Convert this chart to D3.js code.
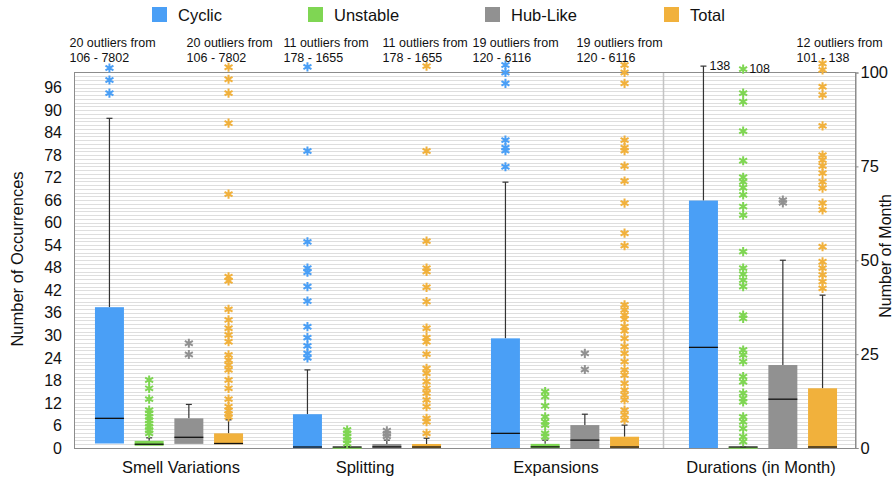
<!DOCTYPE html>
<html><head><meta charset="utf-8">
<script src="https://cdn.jsdelivr.net/npm/d3@7"></script>
<style>body{margin:0;background:#fff}svg{display:block;font-family:"Liberation Sans",Arial,Helvetica,sans-serif}</style>
</head><body><svg id="c" width="895" height="481"></svg>
<script>
// ---------- data ----------
const categories = ["Smell Variations", "Splitting", "Expansions", "Durations (in Month)"];
const seriesNames = ["Cyclic", "Unstable", "Hub-Like", "Total"];
const leftTicks = [0, 6, 12, 18, 24, 30, 36, 42, 48, 54, 60, 66, 72, 78, 84, 90, 96];
const rightTicks = [0, 25, 50, 75, 100];

const cyclicLo  = [1.2, 0, 0, 0];
const cyclicQ1  = [1.2, 0, 0, 0];
const cyclicMed = [7.9, 0, 3.9, 26.8];
const cyclicQ3  = [37.5, 9.0, 29.2, 65.9];
const cyclicHi  = [87.8, 20.8, 70.8, 101.7];
const cyclicOut = [
  [94.5, 98, 101.2],
  [101.5, 79.1, 54.9, 47.9, 46.8, 43, 39.1, 32.3, 29.4, 27.2, 25.2, 24],
  [102, 100, 97.1, 82, 80, 79.2, 74.9],
  []
];

const unstableLo  = [0.6, 0, 0, 0];
const unstableQ1  = [0.6, 0, 0, 0];
const unstableMed = [1.0, 0, 0.3, 0];
const unstableQ3  = [1.9, 0.2, 1.1, 0.2];
const unstableHi  = [2.7, 0.3, 2.1, 0.2];
const unstableOut = [
  [18.1, 15.9, 13, 10.1, 9.2, 8.3, 7.4, 6.5, 5.6, 4.8, 3.9],
  [4.8, 3.9, 3, 2.1, 1.2],
  [15, 13.7, 11.2, 8.3, 7, 6.1, 3.9, 3],
  [100.9, 94.5, 92.2, 84.4, 76.5, 72.1, 70.9, 69.3, 67.4, 64.3, 62, 52.3, 47.9, 46.3, 44.7, 43,
   35.4, 34.5, 26.1, 24.8, 23, 19, 17.6, 14.6, 13.2, 12.3, 8.3, 7, 5.2, 3, 1.7]
];

const hubLo  = [1.1, 0, 0, 0];
const hubQ1  = [1.1, 0, 0, 0];
const hubMed = [2.85, 0.3, 2.1, 13];
const hubQ3  = [7.9, 1.07, 6.1, 22.1];
const hubHi  = [11.6, 2.1, 9, 50];
const hubOut = [
  [27.9, 24.9],
  [4.6, 3.8, 3.1],
  [25.2, 20.9],
  [66, 65.3]
];

const totalLo  = [1, 0, 0, 0];
const totalQ1  = [1, 0, 0, 0];
const totalMed = [1.2, 0, 0, 0];
const totalQ3  = [3.9, 1.07, 3, 15.9];
const totalHi  = [7.5, 2.6, 6.1, 40.7];
const totalOut = [
  [101.4, 98.2, 94.5, 86.5, 67.6, 45.6, 44.5, 36.9, 34.1, 31.9, 30.1, 28.3, 24.8, 23.4, 22.1, 20.8,
   18.1, 15.9, 13, 11, 10, 9, 8.3],
  [101.7, 79.1, 55.1, 47.9, 47, 42.8, 39, 31.9, 29.4, 28.3, 25, 21.2, 19.9, 17.7, 15.9, 14.6,
   12.8, 11, 7.9, 7, 3.9],
  [102, 100, 97.1, 82, 80, 79.2, 75.1, 71.1, 65.2, 57.2, 53.9, 38.1, 36.8, 35.4, 34.3, 32.3, 31.2,
   29.2, 27, 25.2, 23, 20.8, 19.4, 17.2, 15.4, 14.1, 12.8, 10.1, 8.8, 7.5],
  [102.4, 100.7, 96.2, 94, 85.8, 78, 76.7, 75.1, 73.2, 70.9, 69.2, 65.2, 63.4, 53.6, 49.6, 47.9,
   46.1, 44.3, 42.5]
];

// outlier notes: category index, series index, two text lines
const noteCat    = [0, 0, 1, 1, 2, 2, 3];
const noteSeries = [0, 3, 0, 3, 0, 3, 3];
const noteLine1  = ["20 outliers from", "20 outliers from", "11 outliers from", "11 outliers from",
                    "19 outliers from", "19 outliers from", "12 outliers from"];
const noteLine2  = ["106 - 7802", "106 - 7802", "178 - 1655", "178 - 1655",
                    "120 - 6116", "120 - 6116", "101 - 138"];
const maxLabelCat = [3, 3];
const maxLabelSeries = [0, 1];
const maxLabelValue = [101.7, 100.9];
const maxLabelText = ["138", "108"];

// ---------- layout ----------
const colors = ["#4a9ff6", "#7fd653", "#919191", "#f1b13c"];
const noteDx = [-40, -42, -24, -44, -33, -48, -26];
const catLabelDx = [12, -2, -9, -2];
const plot = {l: 74, r: 855, t: 72, b: 448};

const svg = d3.select("#c");
const y = d3.scaleLinear().domain([0, 100]).range([plot.b, plot.t + 0.5]);
const xg = d3.scaleBand().domain(categories).range([70, 862]);
const xs = d3.scaleBand().domain(seriesNames).range([-79.4, 79.4]).paddingInner(0.27).paddingOuter(0.135);
const bw = xs.bandwidth();

const stats = [
  {lo: cyclicLo, q1: cyclicQ1, med: cyclicMed, q3: cyclicQ3, hi: cyclicHi, out: cyclicOut},
  {lo: unstableLo, q1: unstableQ1, med: unstableMed, q3: unstableQ3, hi: unstableHi, out: unstableOut},
  {lo: hubLo, q1: hubQ1, med: hubMed, q3: hubQ3, hi: hubHi, out: hubOut},
  {lo: totalLo, q1: totalQ1, med: totalMed, q3: totalQ3, hi: totalHi, out: totalOut}
];
const cx = (ci, si) => xg(categories[ci]) + xg.bandwidth() / 2 + xs(seriesNames[si]) + bw / 2;

// gridlines
svg.append("g").selectAll("line").data(d3.range(1, 100)).join("line")
  .attr("x1", plot.l).attr("x2", plot.r)
  .attr("y1", d => Math.round(y(d)) + 0.5).attr("y2", d => Math.round(y(d)) + 0.5)
  .attr("stroke", "#dedede").attr("stroke-width", 1);

// separator between Expansions and Durations
svg.append("line").attr("x1", 663.5).attr("x2", 663.5).attr("y1", plot.t).attr("y2", plot.b)
  .attr("stroke", "#c4c4c4").attr("stroke-width", 1.5);

// frame
svg.append("rect").attr("x", plot.l + 0.5).attr("y", plot.t + 0.5)
  .attr("width", plot.r - plot.l).attr("height", plot.b - plot.t)
  .attr("fill", "none").attr("stroke", "#8c8c8c").attr("stroke-width", 1);

// boxes
const star = r => {
  const a = Math.PI / 3; let p = "";
  for (let k = 0; k < 3; k++) {
    const dx = r * Math.sin(k * a), dy = r * Math.cos(k * a);
    p += `M${-dx},${-dy}L${dx},${dy}`;
  }
  return p;
};
stats.forEach((s, si) => {
  categories.forEach((c, ci) => {
    const x0 = cx(ci, si);
    const g = svg.append("g");
    g.append("line").attr("x1", x0).attr("x2", x0).attr("y1", y(s.q3[ci])).attr("y2", y(s.hi[ci]))
      .attr("stroke", "#333").attr("stroke-width", 1.2);
    g.append("line").attr("x1", x0 - 3).attr("x2", x0 + 3).attr("y1", y(s.hi[ci])).attr("y2", y(s.hi[ci]))
      .attr("stroke", "#333").attr("stroke-width", 1.2);
    if (s.lo[ci] < s.q1[ci]) {
      g.append("line").attr("x1", x0).attr("x2", x0).attr("y1", y(s.q1[ci])).attr("y2", y(s.lo[ci]))
        .attr("stroke", "#333").attr("stroke-width", 1.2);
    }
    g.append("rect").attr("x", x0 - bw / 2).attr("width", bw)
      .attr("y", y(s.q3[ci])).attr("height", Math.max(1.5, y(s.q1[ci]) - y(s.q3[ci])))
      .attr("fill", colors[si]);
    const my = Math.min(y(s.med[ci]), plot.b - 1);
    g.append("line").attr("x1", x0 - bw / 2).attr("x2", x0 + bw / 2).attr("y1", my).attr("y2", my)
      .attr("stroke", "#111").attr("stroke-width", 1.3);
    g.selectAll("path.o").data(s.out[ci]).join("path").attr("class", "o")
      .attr("transform", d => `translate(${x0},${y(d)})`)
      .attr("d", star(4.6)).attr("stroke", colors[si]).attr("stroke-width", 2).attr("fill", "none");
  });
});

// max labels
maxLabelText.forEach((t, i) => {
  svg.append("text").attr("x", cx(maxLabelCat[i], maxLabelSeries[i]) + 6).attr("y", y(maxLabelValue[i]) + 4)
    .attr("font-size", 12.5).attr("fill", "#111").text(t);
});

// outlier notes
noteCat.forEach((c, i) => {
  const nx = cx(c, noteSeries[i]) + noteDx[i];
  const t = svg.append("text").attr("font-size", 12.5).attr("fill", "#111");
  t.append("tspan").attr("x", nx).attr("y", 47).text(noteLine1[i]);
  t.append("tspan").attr("x", nx).attr("y", 62).text(noteLine2[i]);
});

// left axis
const gl = svg.append("g").attr("transform", `translate(${plot.l},0)`)
  .call(d3.axisLeft(y).tickValues(leftTicks).tickSize(0).tickPadding(12));
gl.select(".domain").remove();
gl.selectAll("text").attr("font-size", 16).attr("font-family", null).attr("fill", "#111");

// right axis
const gr = svg.append("g").attr("transform", `translate(${plot.r + 0.5},0)`)
  .call(d3.axisRight(y).tickValues(rightTicks).tickSize(3).tickPadding(2));
gr.select(".domain").attr("stroke", "#8c8c8c");
gr.selectAll(".tick line").attr("stroke", "#8c8c8c");
gr.selectAll("text").attr("font-size", 16.5).attr("font-family", null).attr("fill", "#111");

// axis titles
svg.append("text").attr("transform", `translate(23,259) rotate(-90)`).attr("text-anchor", "middle")
  .attr("font-size", 16.5).attr("fill", "#111").text("Number of Occurrences");
svg.append("text").attr("transform", `translate(891,256) rotate(-90)`).attr("text-anchor", "middle")
  .attr("font-size", 16).attr("fill", "#111").text("Number of Month");

// category labels
svg.append("g").selectAll("text").data(categories).join("text")
  .attr("x", (d, i) => xg(d) + xg.bandwidth() / 2 + catLabelDx[i]).attr("y", 473).attr("text-anchor", "middle")
  .attr("font-size", 16.5).attr("fill", "#111").text(d => d);

// legend
const legX = [152, 308, 485, 664];
seriesNames.forEach((n, i) => {
  svg.append("rect").attr("x", legX[i]).attr("y", 7).attr("width", 15).attr("height", 15).attr("fill", colors[i]);
  svg.append("text").attr("x", legX[i] + 26).attr("y", 21).attr("font-size", 16.5).attr("fill", "#111").text(n);
});
</script></body></html>
